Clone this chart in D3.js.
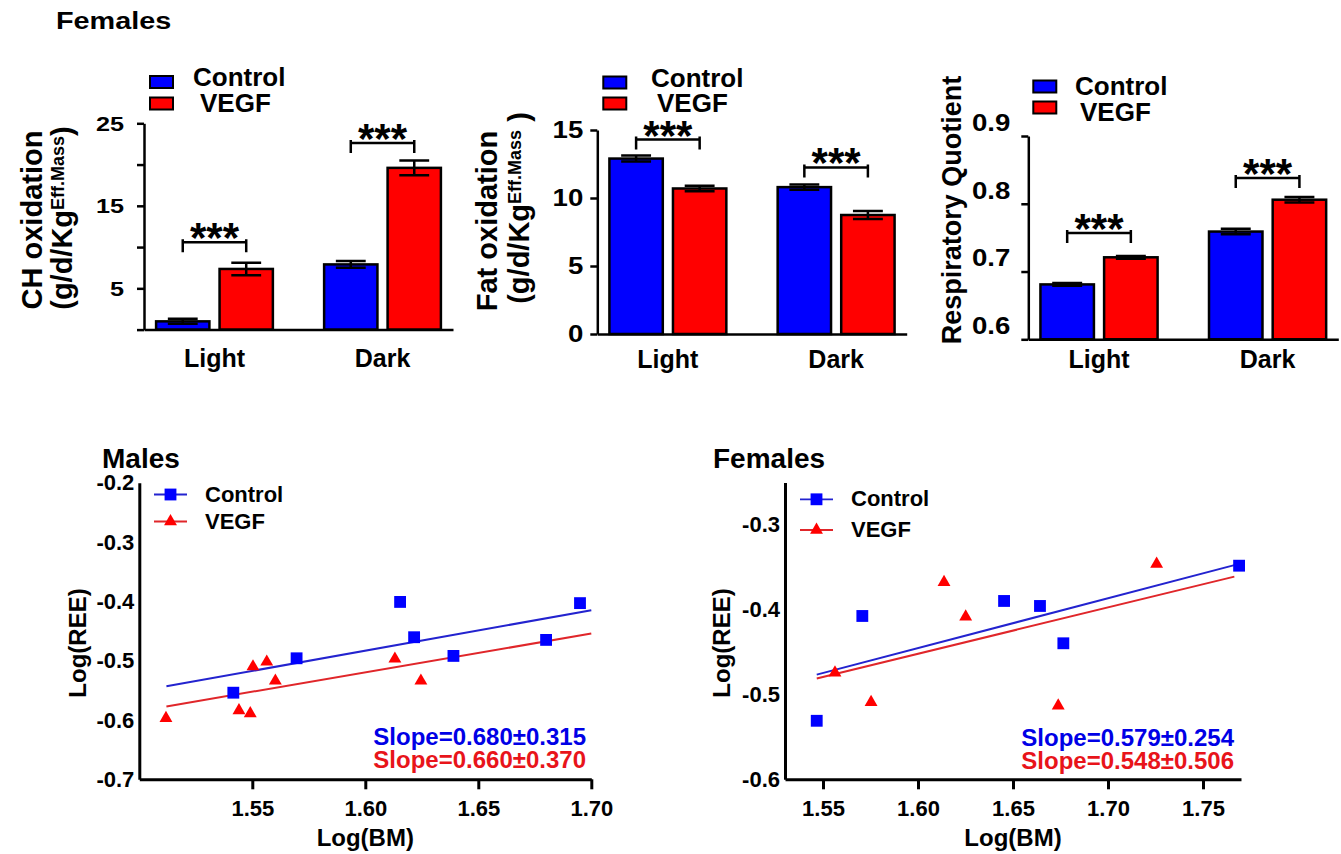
<!DOCTYPE html>
<html>
<head>
<meta charset="utf-8">
<script src="https://cdn.jsdelivr.net/npm/d3@7"></script>
<style>
  body { margin: 0; background: #fff; }
  svg text { font-family: "Liberation Sans", Arial, sans-serif; font-weight: bold; fill: #000; }
</style>
</head>
<body>
<div id="chart"></div>
<script>
// ---------------- data ----------------
var periods = ["Light", "Dark"];
var groupNames = ["Control", "VEGF"];

// CH oxidation (g/d/Kg Eff.Mass)
var chOxControl = [1.0, 7.9];
var chOxControlSem = [0.3, 0.4];
var chOxVegf = [7.35, 19.6];
var chOxVegfSem = [0.75, 0.9];
var chOxSigLevel = [10.6, 22.6];
var chOxTicks = [0, 5, 10, 15, 20, 25];
var chOxTickLabels = [5, 15, 25];

// Fat oxidation
var fatOxControl = [12.9, 10.8];
var fatOxControlSem = [0.22, 0.2];
var fatOxVegf = [10.7, 8.75];
var fatOxVegfSem = [0.2, 0.3];
var fatOxSigLevel = [14.3, 12.25];
var fatOxTicks = [0, 5, 10, 15];

// Respiratory quotient
var rqControl = [0.681, 0.759];
var rqControlSem = [0.002, 0.004];
var rqVegf = [0.721, 0.806];
var rqVegfSem = [0.002, 0.004];
var rqSigLevel = [0.757, 0.838];
var rqTicks = [0.6, 0.7, 0.8, 0.9];

// Log(BM) vs Log(REE)
var malesControlBM = [1.5416, 1.5696, 1.6154, 1.6216, 1.639, 1.680, 1.695];
var malesControlREE = [-0.554, -0.496, -0.401, -0.4605, -0.492, -0.465, -0.403];
var malesVegfBM = [1.5118, 1.5441, 1.5491, 1.5503, 1.5564, 1.5602, 1.6131, 1.6246];
var malesVegfREE = [-0.597, -0.584, -0.589, -0.510, -0.502, -0.534, -0.497, -0.534];
var malesFitRange = [1.512, 1.70];
var malesSlopes = ["Slope=0.680\u00b10.315", "Slope=0.660\u00b10.370"];
var malesXTicks = [1.55, 1.60, 1.65, 1.70];
var malesYTicks = [-0.7, -0.6, -0.5, -0.4, -0.3, -0.2];

var femalesControlBM = [1.5467, 1.5707, 1.6453, 1.6642, 1.6765, 1.769];
var femalesControlREE = [-0.531, -0.4074, -0.3897, -0.3956, -0.4396, -0.3481];
var femalesVegfBM = [1.5563, 1.5753, 1.6137, 1.6251, 1.6738, 1.7256];
var femalesVegfREE = [-0.4743, -0.5092, -0.3677, -0.4083, -0.5132, -0.3461];
var femalesFitRange = [1.5467, 1.7665];
var femalesSlopes = ["Slope=0.579\u00b10.254", "Slope=0.548\u00b10.506"];
var femalesXTicks = [1.55, 1.60, 1.65, 1.70, 1.75];
var femalesYTicks = [-0.6, -0.5, -0.4, -0.3];

// ---------------- drawing ----------------
var barColors = { Control: "#0000ff", VEGF: "#ff0000" };
var lineColors = { Control: "#2323cf", VEGF: "#e0262a" };
var markColors = { Control: "#0000ff", VEGF: "#ff0000" };

var svg = d3.select("#chart").append("svg")
	.attr("width", 1341)
	.attr("height", 854);

// top title
svg.append("text")
	.attr("transform", "translate(56,29) scale(1.2,1)")
	.style("font-size", "24px")
	.text("Females");

function drawBars(p) {
	var g = svg.append("g");
	var x0 = d3.scaleBand().domain(periods).range([p.left, p.right])
		.paddingInner(0.305).paddingOuter(0.072);
	var x1 = d3.scaleBand().domain(groupNames).range([0, x0.bandwidth()])
		.paddingInner(0.16);
	var y = d3.scaleLinear().domain(p.domain).range([p.bottom, p.top]);

	var rows = [];
	periods.forEach(function(per, i) {
		rows.push({ period: per, group: "Control", value: p.control[i], sem: p.controlSem[i] });
		rows.push({ period: per, group: "VEGF", value: p.vegf[i], sem: p.vegfSem[i] });
	});
	var bw = x1.bandwidth();
	var cx = function(d) { return x0(d.period) + x1(d.group) + bw / 2; };

	g.selectAll("rect.bar").data(rows).enter().append("rect")
		.attr("class", "bar")
		.attr("x", function(d) { return x0(d.period) + x1(d.group); })
		.attr("y", function(d) { return y(d.value); })
		.attr("width", bw)
		.attr("height", function(d) { return y(p.domain[0]) - y(d.value); })
		.attr("fill", function(d) { return barColors[d.group]; })
		.attr("stroke", "#000")
		.attr("stroke-width", 2.5);

	// error bars (mean +/- sem)
	var cap = bw * 0.28;
	g.selectAll("path.err").data(rows).enter().append("path")
		.attr("class", "err")
		.attr("fill", "none")
		.attr("stroke", "#000")
		.attr("stroke-width", 2.5)
		.attr("d", function(d) {
			var x = cx(d), hi = y(d.value + d.sem), lo = y(d.value - d.sem);
			return "M" + x + "," + hi + "V" + lo +
				"M" + (x - cap) + "," + hi + "H" + (x + cap) +
				"M" + (x - cap) + "," + lo + "H" + (x + cap);
		});

	// significance brackets
	periods.forEach(function(per, i) {
		var xa = x0(per) + x1("Control") + bw / 2;
		var xb = x0(per) + x1("VEGF") + bw / 2;
		var yy = y(p.sig[i]);
		g.append("path")
			.attr("fill", "none").attr("stroke", "#000").attr("stroke-width", 2.5)
			.attr("d", "M" + xa + "," + (yy - 3) + "V" + (yy + 10) +
				"M" + xa + "," + yy + "H" + xb +
				"M" + xb + "," + (yy - 3) + "V" + (yy + 10));
		g.append("text")
			.attr("x", (xa + xb) / 2)
			.attr("y", yy + 10)
			.attr("text-anchor", "middle")
			.style("font-size", "42px")
			.text("***");
	});

	// axes
	var yAxis = d3.axisLeft(y).tickValues(p.ticks).tickSize(7).tickSizeOuter(0)
		.tickFormat(function(d) { return p.labels.indexOf(d) >= 0 ? p.fmt(d) : ""; });
	var ya = g.append("g").attr("transform", "translate(" + p.left + ",0)").call(yAxis);
	ya.selectAll("path, line").attr("stroke", "#000").attr("stroke-width", 2.5);
	ya.selectAll(".tick text")
		.attr("x", 0)
		.attr("transform", "translate(" + (-p.labelGap) + "," + p.labelDy + ") scale(1.2,1)")
		.style("font-size", p.tickFont + "px");

	var xAxis = d3.axisBottom(x0).tickSize(0).tickSizeOuter(0)
		.tickPadding(p.xLabelBase - p.bottom - 0.71 * 25);
	var xa = g.append("g").attr("transform", "translate(0," + y(p.domain[0]) + ")").call(xAxis);
	xa.select(".domain").attr("stroke", "#000").attr("stroke-width", 2.5);
	xa.selectAll(".tick text").style("font-size", "25px");

	// legend
	groupNames.forEach(function(name, i) {
		g.append("rect")
			.attr("x", p.legend.x).attr("y", p.legend.ry[i])
			.attr("width", 23).attr("height", 12)
			.attr("fill", barColors[name]).attr("stroke", "#000").attr("stroke-width", 2);
		g.append("text")
			.attr("x", p.legend.tx[i]).attr("y", p.legend.ty[i])
			.style("font-size", "26px")
			.text(name);
	});

	// y axis title
	g.append("text")
		.attr("transform", "translate(" + p.title1[0] + "," + p.title1[1] + ") rotate(-90)")
		.attr("text-anchor", "middle")
		.style("font-size", p.title1[2] + "px")
		.text(p.titleText);
	if (p.title2) {
		var t = g.append("text")
			.attr("transform", "translate(" + p.title2[0] + "," + p.title2[1] + ") rotate(-90)")
			.attr("text-anchor", "middle")
			.style("font-size", "29px");
		t.append("tspan").text("(g/d/Kg");
		t.append("tspan").attr("dy", -8).style("font-size", "18px").text("Eff.Mass");
		t.append("tspan").attr("dy", 8).text(p.closing);
	}
}

drawBars({
	left: 144, right: 453, top: 123.3, bottom: 329.6, domain: [0, 25],
	control: chOxControl, controlSem: chOxControlSem,
	vegf: chOxVegf, vegfSem: chOxVegfSem, sig: chOxSigLevel,
	ticks: chOxTicks, labels: chOxTickLabels, fmt: function(d) { return d; },
	labelGap: 20, labelDy: 0, tickFont: 21, xLabelBase: 367,
	legend: { x: 150, ry: [76, 97.5], tx: [193, 200], ty: [86, 112] },
	titleText: "CH oxidation", title1: [42, 220, 29], title2: [72, 218], closing: ")"
});

drawBars({
	left: 597.3, right: 906.7, top: 130, bottom: 334, domain: [0, 15],
	control: fatOxControl, controlSem: fatOxControlSem,
	vegf: fatOxVegf, vegfSem: fatOxVegfSem, sig: fatOxSigLevel,
	ticks: fatOxTicks, labels: fatOxTicks, fmt: function(d) { return d; },
	labelGap: 14, labelDy: 0, tickFont: 23, xLabelBase: 368,
	legend: { x: 603.3, ry: [76.5, 97.5], tx: [651, 657], ty: [87, 112] },
	titleText: "Fat oxidation", title1: [497, 221, 29], title2: [529, 208], closing: "\u00a0)"
});

drawBars({
	left: 1028.3, right: 1338.3, top: 136, bottom: 339.3, domain: [0.6, 0.9],
	control: rqControl, controlSem: rqControlSem,
	vegf: rqVegf, vegfSem: rqVegfSem, sig: rqSigLevel,
	ticks: rqTicks, labels: rqTicks, fmt: function(d) { return d.toFixed(1); },
	labelGap: 18, labelDy: -13, tickFont: 23, xLabelBase: 368,
	legend: { x: 1033.3, ry: [80.5, 101.5], tx: [1075, 1080], ty: [95, 121] },
	titleText: "Respiratory Quotient", title1: [961, 210, 27], title2: null
});

// least squares fit, used for the regression lines
function fitLine(xs, ys) {
	var mx = d3.mean(xs), my = d3.mean(ys);
	var sxy = d3.sum(xs, function(v, i) { return (v - mx) * (ys[i] - my); });
	var sxx = d3.sum(xs, function(v) { return (v - mx) * (v - mx); });
	var slope = sxy / sxx;
	return { slope: slope, intercept: my - slope * mx };
}

function drawScatter(p) {
	var g = svg.append("g");
	var x = d3.scaleLinear().domain(p.xDomain).range([p.left, p.right]);
	var y = d3.scaleLinear().domain(p.yDomain).range([p.bottom, p.top]);

	var series = [
		{ name: "Control", xs: p.controlX, ys: p.controlY, shape: d3.symbolSquare, size: 140 },
		{ name: "VEGF", xs: p.vegfX, ys: p.vegfY, shape: d3.symbolTriangle, size: 72 }
	];

	// regression lines
	var line = d3.line().x(function(d) { return x(d[0]); }).y(function(d) { return y(d[1]); });
	series.forEach(function(s) {
		var f = fitLine(s.xs, s.ys);
		var pts = p.fitRange.map(function(v) { return [v, f.intercept + f.slope * v]; });
		g.append("path").datum(pts)
			.attr("fill", "none")
			.attr("stroke", lineColors[s.name])
			.attr("stroke-width", 2)
			.attr("d", line);
	});

	// points
	series.forEach(function(s) {
		var sym = d3.symbol().type(s.shape).size(s.size);
		g.selectAll("path.pt-" + s.name).data(s.xs.map(function(v, i) { return [v, s.ys[i]]; }))
			.enter().append("path")
			.attr("class", "pt-" + s.name)
			.attr("transform", function(d) { return "translate(" + x(d[0]) + "," + y(d[1]) + ")"; })
			.attr("fill", markColors[s.name])
			.attr("d", sym);
	});

	// axes
	var ya = g.append("g").attr("transform", "translate(" + p.left + ",0)")
		.call(d3.axisLeft(y).tickValues(p.yTicks).tickSize(0).tickPadding(5).tickSizeOuter(0)
			.tickFormat(function(d) { return d.toFixed(1); }));
	var xa = g.append("g").attr("transform", "translate(0," + p.bottom + ")")
		.call(d3.axisBottom(x).tickValues(p.xTicks).tickSize(10).tickPadding(11).tickSizeOuter(0)
			.tickFormat(function(d) { return d.toFixed(2); }));
	g.selectAll(".domain, .tick line").attr("stroke", "#000").attr("stroke-width", 3);
	g.selectAll(".tick text").style("font-size", "22px");

	// legend
	series.forEach(function(s, i) {
		var ly = p.legend.ly[i];
		g.append("line")
			.attr("x1", p.legend.x).attr("x2", p.legend.x + 33)
			.attr("y1", ly).attr("y2", ly)
			.attr("stroke", lineColors[s.name]).attr("stroke-width", 1.8);
		g.append("path")
			.attr("transform", "translate(" + (p.legend.x + 16.5) + "," + ly + ")")
			.attr("fill", markColors[s.name])
			.attr("d", d3.symbol().type(s.shape).size(s.size)());
		g.append("text")
			.attr("x", p.legend.tx).attr("y", p.legend.ty[i])
			.style("font-size", "22px")
			.text(s.name);
	});

	// slope annotations
	p.slopes.forEach(function(txt, i) {
		g.append("text")
			.attr("x", p.slopeX).attr("y", p.slopeY[i])
			.attr("text-anchor", "end")
			.style("font-size", "24px")
			.style("fill", i === 0 ? "#0000e6" : "#e8141a")
			.text(txt);
	});

	// titles
	g.append("text").attr("x", p.titleX).attr("y", 468).style("font-size", "28px").text(p.title);
	g.append("text")
		.attr("x", (p.left + p.right) / 2).attr("y", 846)
		.attr("text-anchor", "middle").style("font-size", "24px").text("Log(BM)");
	g.append("text")
		.attr("transform", "translate(" + p.yTitleX + ",643) rotate(-90)")
		.attr("text-anchor", "middle").style("font-size", "24px").text("Log(REE)");
}

drawScatter({
	left: 139.3, right: 591.3, top: 482.7, bottom: 779.3,
	xDomain: [1.50, 1.70], yDomain: [-0.7, -0.2],
	xTicks: malesXTicks, yTicks: malesYTicks,
	controlX: malesControlBM, controlY: malesControlREE,
	vegfX: malesVegfBM, vegfY: malesVegfREE,
	fitRange: malesFitRange, slopes: malesSlopes,
	slopeX: 586, slopeY: [745, 768],
	legend: { x: 154, ly: [494.5, 521.5], tx: 205, ty: [502, 529] },
	title: "Males", titleX: 102, yTitleX: 86
});

drawScatter({
	left: 785, right: 1241, top: 482.5, bottom: 779.3,
	xDomain: [1.53, 1.77], yDomain: [-0.6, -0.25],
	xTicks: femalesXTicks, yTicks: femalesYTicks,
	controlX: femalesControlBM, controlY: femalesControlREE,
	vegfX: femalesVegfBM, vegfY: femalesVegfREE,
	fitRange: femalesFitRange, slopes: femalesSlopes,
	slopeX: 1234, slopeY: [746, 769],
	legend: { x: 800, ly: [499.3, 530], tx: 851, ty: [506, 537] },
	title: "Females", titleX: 713, yTitleX: 730
});
</script>
</body>
</html>
